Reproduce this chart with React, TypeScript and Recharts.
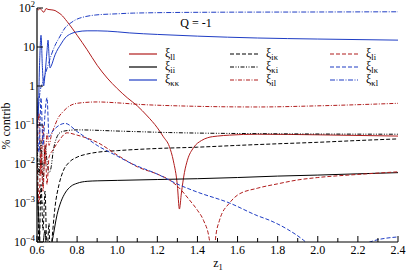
import React from "react";
import { LineChart, Line, XAxis, YAxis, Legend, Customized } from "recharts";

const FONT = "Liberation Serif, Times New Roman, serif";
const RED = "#b01c1c";
const BLUE = "#1f3dc4";
const BLACK = "#000000";

// x-axis ticks (z1) and y-axis decades
const xTicks = [0.6, 0.7, 0.8, 0.9, 1.0, 1.1, 1.2, 1.3, 1.4, 1.5, 1.6, 1.7, 1.8, 1.9, 2.0, 2.1, 2.2, 2.3, 2.4];
const yTicks = [1e-4, 1e-3, 1e-2, 1e-1, 1, 10, 100];

// xi_ll (red solid)
const llX = [0.6, 0.607, 0.615, 0.625, 0.635, 0.645, 0.655, 0.67, 0.69, 0.7, 0.72, 0.75, 0.8, 0.85, 0.9, 0.95, 1.0, 1.05, 1.1, 1.15, 1.2, 1.23, 1.26, 1.28, 1.3, 1.31, 1.32, 1.335, 1.35, 1.38, 1.42, 1.45, 1.5, 1.56, 1.7, 2.0, 2.4];
const llY = [96, 90, 97, 85, 78, 97, 92, 90, 86, 80, 68, 45, 20, 8.5, 3.4, 1.6, 0.86, 0.5, 0.31, 0.17, 0.085, 0.05, 0.028, 0.012, 0.0028, 0.0007, 0.0018, 0.006, 0.0125, 0.026, 0.04, 0.047, 0.052, 0.055, 0.058, 0.056, 0.052];
// xi_ii (black solid)
const iiX = [0.6, 0.61, 0.62, 0.64, 0.65, 0.675, 0.7, 0.72, 0.74, 0.77, 0.8, 0.85, 0.9, 1.0, 1.2, 1.4, 1.6, 1.8, 2.0, 2.2, 2.4];
const iiY = [0.003, 0.0003, 0.00003, 0.0002, 0.00003, 0.0001, 0.0005, 0.0011, 0.0018, 0.0027, 0.0032, 0.0036, 0.0037, 0.0038, 0.004, 0.0042, 0.0045, 0.0049, 0.0052, 0.0056, 0.006];
// xi_kk (blue solid)
const kkX = [0.6, 0.605, 0.613, 0.62, 0.627, 0.633, 0.64, 0.65, 0.655, 0.66, 0.665, 0.67, 0.69, 0.72, 0.74, 0.77, 0.8, 0.85, 0.9, 1.0, 1.06, 1.2, 1.4, 1.7, 2.0, 2.4];
const kkY = [0.5, 0.15, 4, 20, 3, 1, 2, 8, 15, 6, 2.9, 3.2, 6.3, 12, 17, 22, 24.5, 26, 26, 24.5, 23, 21, 19, 17, 16, 15];
// xi_ik (black dashed)
const ikX = [0.6, 0.605, 0.61, 0.62, 0.63, 0.64, 0.65, 0.66, 0.665, 0.675, 0.69, 0.71, 0.73, 0.76, 0.8, 0.85, 0.9, 1.0, 1.2, 1.4, 1.6, 1.8, 2.0, 2.2, 2.4];
const ikY = [0.02, 0.002, 0.00003, 0.003, 0.0002, 0.002, 0.00005, 0.0003, 0.00003, 0.00012, 0.0008, 0.003, 0.0065, 0.011, 0.015, 0.018, 0.02, 0.022, 0.025, 0.027, 0.03, 0.033, 0.036, 0.04, 0.044];
// xi_ki (black dash-dot-dot)
const kiX = [0.6, 0.61, 0.62, 0.63, 0.64, 0.65, 0.66, 0.67, 0.68, 0.7, 0.72, 0.75, 0.8, 1.0, 1.26, 1.7, 2.4];
const kiY = [0.05, 0.005, 0.04, 0.003, 0.03, 0.012, 0.006, 0.008, 0.02, 0.05, 0.066, 0.072, 0.075, 0.07, 0.064, 0.06, 0.058];
// xi_il (red dash-dot)
const ilX = [0.6, 0.61, 0.62, 0.63, 0.64, 0.65, 0.66, 0.67, 0.69, 0.705, 0.73, 0.755, 0.8, 0.9, 1.0, 1.1, 1.3, 1.7, 2.0, 2.4];
const ilY = [0.02, 0.2, 0.005, 0.1, 0.01, 0.06, 0.03, 0.05, 0.1, 0.15, 0.22, 0.29, 0.36, 0.39, 0.37, 0.34, 0.31, 0.29, 0.31, 0.36];
// xi_li (red dashed)
const liX = [0.6, 0.61, 0.62, 0.63, 0.64, 0.65, 0.66, 0.68, 0.71, 0.75, 0.8, 0.9, 1.0, 1.06, 1.1, 1.2, 1.26, 1.3, 1.36, 1.4, 1.43, 1.46, 1.472, 1.48, 1.49, 1.51, 1.56, 1.6, 1.7, 1.8, 1.9, 2.0, 2.2, 2.4];
const liY = [0.01, 0.001, 0.02, 0.002, 0.03, 0.003, 0.015, 0.023, 0.04, 0.063, 0.055, 0.036, 0.017, 0.011, 0.0085, 0.0055, 0.0039, 0.0027, 0.0012, 0.00065, 0.00036, 0.00011, 0.000015, 0.00003, 0.00012, 0.00036, 0.001, 0.0016, 0.0024, 0.0031, 0.0039, 0.0045, 0.0054, 0.0063];
// xi_lk (blue dashed)
const lkX = [0.6, 0.61, 0.62, 0.63, 0.64, 0.65, 0.66, 0.675, 0.7, 0.74, 0.8, 0.85, 0.9, 1.0, 1.064, 1.2, 1.31, 1.4, 1.56, 1.7, 1.76, 1.85, 1.93, 2.0, 2.08, 2.14, 2.2, 2.26, 2.4];
const lkY = [0.3, 0.02, 0.5, 0.03, 0.2, 0.5, 0.05, 0.066, 0.09, 0.11, 0.068, 0.045, 0.03, 0.016, 0.0107, 0.0055, 0.0029, 0.0019, 0.001, 0.00047, 0.00036, 0.00021, 0.00011, 0.00005, 0.000015, 0.000002, 0.00004, 0.0001, 0.000135];
// xi_kl (blue dash-dot)
const klX = [0.6, 0.61, 0.615, 0.63, 0.655, 0.67, 0.69, 0.71, 0.74, 0.77, 0.79, 0.84, 0.89, 1.0, 1.08, 1.5, 2.0, 2.4];
const klY = [0.1, 0.4, 0.7, 1.3, 3.4, 6, 11, 17, 31, 42, 49, 60, 66, 71, 74, 78, 79, 80];

const zip = (xs: number[], ys: number[]) => xs.map((x, i) => ({ x, y: ys[i] }));

const series = [
  { key: "ll", sub: "ll", color: RED, dash: undefined, xs: llX, ys: llY },
  { key: "ii", sub: "ii", color: BLACK, dash: undefined, xs: iiX, ys: iiY },
  { key: "kk", sub: "κκ", color: BLUE, dash: undefined, xs: kkX, ys: kkY },
  { key: "ik", sub: "iκ", color: BLACK, dash: "4 2", xs: ikX, ys: ikY },
  { key: "ki", sub: "κi", color: BLACK, dash: "4 1.5 1 1.5 1 1.5", xs: kiX, ys: kiY },
  { key: "il", sub: "il", color: RED, dash: "4 1.5 1 1.5", xs: ilX, ys: ilY },
  { key: "li", sub: "li", color: RED, dash: "4 2", xs: liX, ys: liY },
  { key: "lk", sub: "lκ", color: BLUE, dash: "4 2", xs: lkX, ys: lkY },
  { key: "kl", sub: "κl", color: BLUE, dash: "5 1.5 1 1.5", xs: klX, ys: klY },
];

const supMap: Record<string, string> = { "100": "2", "0.1": "−1", "0.01": "−2", "0.001": "−3", "0.0001": "−4" };
const txt = { fontFamily: FONT };

const LeftTick = (props: any) => {
  const { x, y, payload } = props;
  const v = payload.value;
  const sup = supMap[String(v)];
  const base = v === 1 ? "1" : "10";
  return (
    <g>
      <line x1={x} x2={x + 6} y1={y} y2={y} stroke="#000" strokeWidth={1} />
      <text x={x - 2} y={y + 4} textAnchor="end" style={txt} fontSize={12} fill="#000">
        <tspan>{base}</tspan>
        {sup ? <tspan dy={-5} fontSize={8.5}>{sup}</tspan> : null}
      </text>
    </g>
  );
};

const RightTick = (props: any) => {
  const { x, y } = props;
  return <line x1={x} x2={x - 6} y1={y} y2={y} stroke="#000" strokeWidth={1} />;
};

const isMajor = (v: number) => Math.round(v * 10) % 2 === 0;

const BottomTick = (props: any) => {
  const { x, y, payload } = props;
  const v = payload.value;
  const major = isMajor(v);
  return (
    <g>
      <line x1={x} x2={x} y1={y} y2={y - (major ? 6 : 4)} stroke="#000" strokeWidth={1} />
      {major ? (
        <text x={x} y={y + 12} textAnchor="middle" style={txt} fontSize={12} fill="#000">
          {v.toFixed(1)}
        </text>
      ) : null}
    </g>
  );
};

const TopTick = (props: any) => {
  const { x, y, payload } = props;
  const major = isMajor(payload.value);
  return <line x1={x} x2={x} y1={y} y2={y + (major ? 6 : 4)} stroke="#000" strokeWidth={1} />;
};

const LegendContent = () => {
  const colX = [0, 101, 201];
  const rowY = [8, 21, 34];
  return (
    <svg width={275} height={44} style={{ display: "block" }}>
      {series.map((s, i) => {
        const cx = colX[Math.floor(i / 3)];
        const cy = rowY[i % 3];
        return (
          <g key={s.key}>
            <line x1={cx} x2={cx + 28} y1={cy} y2={cy} stroke={s.color} strokeWidth={1.2} strokeDasharray={s.dash} />
            <text x={cx + 36} y={cy + 3} style={txt} fontSize={12} fill="#000">
              <tspan>ξ</tspan>
              <tspan dy={3} fontSize={8.5}>{s.sub}</tspan>
            </text>
          </g>
        );
      })}
    </svg>
  );
};

const Annotations = () => (
  <g>
    <text x={196} y={27} textAnchor="middle" style={txt} fontSize={12} fill="#000">Q = -1</text>
    <text x={218} y={267} textAnchor="middle" style={txt} fontSize={12} fill="#000">
      <tspan>z</tspan>
      <tspan dy={3} fontSize={8.5}>1</tspan>
    </text>
    <text x={10} y={126} textAnchor="middle" style={txt} fontSize={12} fill="#000" transform="rotate(-90 10 126)">
      % contrib
    </text>
  </g>
);

export default function App() {
  return (
    <div style={{ position: "absolute", left: 0, top: 0, width: 407, height: 271, background: "#fff" }}>
      <LineChart width={407} height={271} margin={{ top: 8, right: 9, bottom: 0, left: 0 }}>
        <XAxis
          xAxisId={0}
          dataKey="x"
          type="number"
          domain={[0.6, 2.4]}
          ticks={xTicks}
          interval={0}
          allowDataOverflow
          height={29}
          tickSize={0}
          tickMargin={0}
          tickLine={false}
          tick={<BottomTick />}
          axisLine={{ stroke: "#000", strokeWidth: 1.2 }}
        />
        <XAxis
          xAxisId="top"
          orientation="top"
          dataKey="x"
          type="number"
          domain={[0.6, 2.4]}
          ticks={xTicks}
          interval={0}
          allowDataOverflow
          height={0}
          tickSize={0}
          tickMargin={0}
          tickLine={false}
          tick={<TopTick />}
          axisLine={{ stroke: "#000", strokeWidth: 1.2 }}
        />
        <YAxis
          yAxisId={0}
          scale="log"
          domain={[1e-4, 100]}
          ticks={yTicks}
          interval={0}
          allowDataOverflow
          width={37}
          tickSize={0}
          tickMargin={0}
          tickLine={false}
          tick={<LeftTick />}
          axisLine={{ stroke: "#000", strokeWidth: 1.2 }}
        />
        <YAxis
          yAxisId="right"
          orientation="right"
          scale="log"
          domain={[1e-4, 100]}
          ticks={yTicks}
          interval={0}
          allowDataOverflow
          width={0}
          tickSize={0}
          tickMargin={0}
          tickLine={false}
          tick={<RightTick />}
          axisLine={{ stroke: "#000", strokeWidth: 1.2 }}
        />
        {series.map((s) => (
          <Line
            key={s.key}
            data={zip(s.xs, s.ys)}
            dataKey="y"
            xAxisId={0}
            yAxisId={0}
            type="monotone"
            stroke={s.color}
            strokeWidth={1}
            strokeDasharray={s.dash}
            dot={false}
            activeDot={false}
            isAnimationActive={false}
          />
        ))}
        <Legend
          layout="horizontal"
          verticalAlign="middle"
          align="center"
          content={<LegendContent />}
          wrapperStyle={{ position: "absolute", left: 129, top: 46, width: 275, height: 44 }}
        />
        <Customized component={<Annotations />} />
      </LineChart>
    </div>
  );
}
